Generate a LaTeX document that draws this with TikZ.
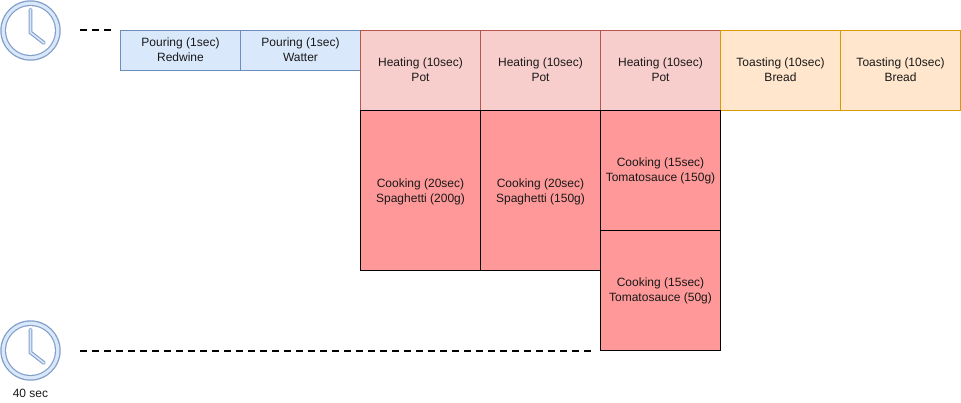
\documentclass[tikz,border=0pt]{standalone}
\usepackage{fontspec}
\setmainfont{Liberation Sans}
\newcommand{\upby}[1]{\rule[-#1]{0pt}{#1}}
\newcommand{\downtall}{\rule{0pt}{11pt}}
\tikzset{
  x=1pt,y=-1pt,
  cell/.style={rectangle,draw,minimum width=120pt,minimum height=#1,inner sep=0pt,align=center,
    font=\fontsize{12}{15}\selectfont,text=black!90,line width=0.9pt},
  cell/.default=80pt,
  blue cell/.style={cell=40pt,fill=bluefill,draw=blueline},
  red cell/.style={cell=80pt,fill=redfill,draw=redline},
  orange cell/.style={cell=80pt,fill=orangefill,draw=orangeline},
  cook/.style={cell=#1,fill=cookfill,draw=black},
  timeline/.style={draw=black,line width=2pt,dash pattern=on 7pt off 5pt},
}
\definecolor{bluefill}{HTML}{DAE8FC}
\definecolor{blueline}{HTML}{6C8EBF}
\definecolor{redfill}{HTML}{F8CECC}
\definecolor{redline}{HTML}{B85450}
\definecolor{orangefill}{HTML}{FFE6CC}
\definecolor{orangeline}{HTML}{D79B00}
\definecolor{cookfill}{HTML}{FF9999}
\newcommand{\clockicon}[1]{%
  \begin{scope}[shift={#1}]
    \fill[blueline!85] (0,0) circle (30.2);
    \fill[bluefill] (0,0) circle (28.9);
    \fill[blueline!85] (0,0) circle (25.6);
    \fill[white] (0,0) circle (24.4);
    \draw[blueline!85,line width=3.8pt,line cap=round,line join=miter] (0,-21) -- (0,2) -- (13.5,12.5);
    \draw[bluefill,line width=1.6pt,line cap=round,line join=miter] (0,-21) -- (0,2) -- (13.5,12.5);
  \end{scope}}
\begin{document}
\begin{tikzpicture}
\useasboundingbox (0,0) rectangle (961,402);
\clockicon{(30.5,30.5)}
\clockicon{(30.5,350.5)}
\coordinate (t1a) at (80,30);
\coordinate (t1b) at (111,30);
\coordinate (t2a) at (80,350.5);
\coordinate (t2b) at (591,350.5);
\draw[timeline] (t1a) -- (t1b);
\draw[timeline] (t2a) -- (t2b);
\node[blue cell] (p1) at (180.5,50.5) {Pouring (1sec)\\Redwine\upby{2pt}};
\node[blue cell] (p2) at (300.5,50.5) {Pouring (1sec)\\Watter\upby{2pt}};
\node[red cell] (h1) at (420.5,70.5) {Heating (10sec)\\Pot\upby{1pt}};
\node[red cell] (h2) at (540.5,70.5) {Heating (10sec)\\Pot\upby{1pt}};
\node[red cell] (h3) at (660.5,70.5) {Heating (10sec)\\Pot\upby{1pt}};
\node[orange cell] (o1) at (780.5,70.5) {Toasting (10sec)\\Bread\upby{1pt}};
\node[orange cell] (o2) at (900.5,70.5) {Toasting (10sec)\\Bread\upby{1pt}};
\node[cook=160pt] (c1) at (420.5,190.5) {\downtall Cooking (20sec)\\Spaghetti (200g)};
\node[cook=160pt] (c2) at (540.5,190.5) {\downtall Cooking (20sec)\\Spaghetti (150g)};
\node[cook=120pt] (c3) at (660.5,170.5) {Cooking (15sec)\\Tomatosauce (150g)};
\node[cook=120pt] (c4) at (660.5,290.5) {Cooking (15sec)\\Tomatosauce (50g)};
\node[font=\fontsize{12}{14}\selectfont,text=black!90,inner sep=0pt] (lab) at (30.5,393.5) {40 sec};
\end{tikzpicture}
\end{document}
